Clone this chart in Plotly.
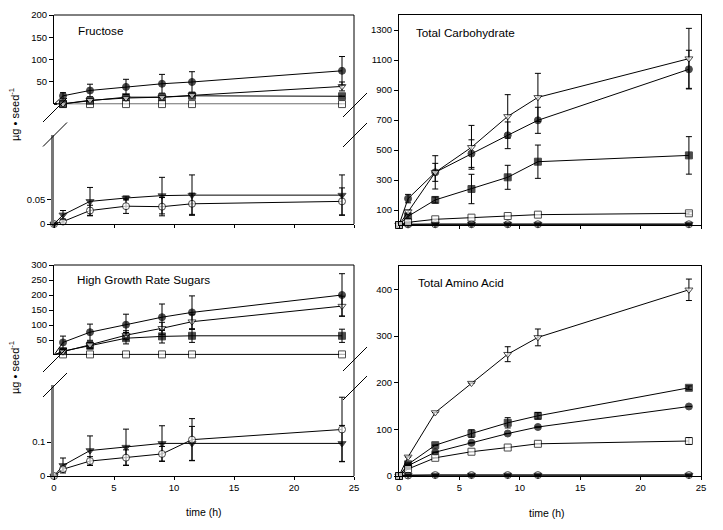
import plotly.graph_objects as go

# page body has an 8px default margin: figure is sized to fit inside the window
OFF = 8
W, H = 723 - 2 * OFF, 530 - 2 * OFF

# ---------------- data ----------------
times = [0, 0.75, 3, 6, 9, 11.5, 24]
x_ticks = [0, 5, 10, 15, 20, 25]

# Fructose
fru_fc = [0, 19, 31, 39, 46, 50, 75]
fru_fc_err = [0, 7, 14, 17, 21, 23, 32]
fru_ot = [0, 1, 9, 14, 16, 20, 40]
fru_ot_err = [0, 0, 0, 0, 0, 0, 10]
fru_fs = [0, 1, 8, 16, 16, 19, 18]
fru_fs_err = [0, 0, 0, 0, 0, 0, 0]
fru_os = [0, 0.5, 0.5, 0.5, 0.5, 0.5, 0.5]
fru_os_err = [0, 0, 0, 0, 0, 0, 0]
fru_ft = [0, 0.019, 0.047, 0.054, 0.059, 0.060, 0.060]
fru_ft_err = [0, 0.009, 0.029, 0.004, 0.038, 0.042, 0.042]
fru_oc = [0, 0.005, 0.028, 0.037, 0.036, 0.042, 0.047]
fru_oc_err = [0, 0.003, 0.011, 0.015, 0.019, 0.022, 0.028]

# High growth rate sugars
hgr_fc = [0, 42, 76, 101, 126, 142, 200]
hgr_fc_err = [0, 21, 27, 35, 44, 55, 71]
hgr_ot = [0, 11, 34, 66, 89, 111, 163]
hgr_ot_err = [0, 0, 10, 15, 20, 25, 33]
hgr_fs = [0, 13, 31, 56, 62, 64, 64]
hgr_fs_err = [0, 5, 10, 19, 22, 22, 22]
hgr_os = [0, 2, 2, 2, 2, 2, 2]
hgr_os_err = [0, 0, 0, 0, 0, 0, 0]
hgr_ft = [0, 0.031, 0.075, 0.085, 0.096, 0.096, 0.096]
hgr_ft_err = [0, 0.022, 0.043, 0.053, 0.052, 0.050, 0.053]
hgr_oc = [0, 0.020, 0.044, 0.054, 0.065, 0.107, 0.137]
hgr_oc_err = [0, 0.006, 0.013, 0.023, 0.022, 0.062, 0.095]

# Total carbohydrate
tc_fc = [0, 176, 351, 476, 598, 698, 1038]
tc_fc_err = [0, 28, 60, 92, 89, 87, 127]
tc_ot = [0, 89, 351, 518, 724, 851, 1109]
tc_ot_err = [0, 10, 111, 146, 145, 160, 202]
tc_fs = [0, 58, 167, 240, 318, 422, 464]
tc_fs_err = [0, 15, 20, 98, 80, 111, 125]
tc_os = [0, 18, 38, 49, 60, 69, 78]
tc_os_err = [0, 0, 0, 0, 0, 0, 10]
tc_ft = [0, 5, 6, 6, 6, 6, 6]
tc_ft_err = [0, 0, 0, 0, 0, 0, 0]
tc_oc = [0, 4, 5, 5, 5, 5, 5]
tc_oc_err = [0, 0, 0, 0, 0, 0, 0]

# Total amino acid
aa_fc = [0, 22, 51, 71, 91, 105, 149]
aa_fc_err = [0, 0, 0, 0, 0, 0, 0]
aa_ot = [0, 41, 136, 199, 261, 297, 399]
aa_ot_err = [0, 0, 0, 0, 16, 18, 23]
aa_fs = [0, 25, 66, 91, 114, 129, 189]
aa_fs_err = [0, 0, 0, 8, 11, 7, 4]
aa_os = [0, 15, 39, 52, 61, 69, 75]
aa_os_err = [0, 0, 0, 0, 0, 0, 7]
aa_ft = [0, 2, 2, 2, 2, 2, 2]
aa_ft_err = [0, 0, 0, 0, 0, 0, 0]
aa_oc = [0, 1, 2, 2, 2, 2, 2]
aa_oc_err = [0, 0, 0, 0, 0, 0, 0]

# ---------------- styles ----------------
STY = {
    "fc": dict(symbol="circle", color="black"),
    "ot": dict(symbol="triangle-down", color="white"),
    "fs": dict(symbol="square", color="black"),
    "os": dict(symbol="square", color="white"),
    "ft": dict(symbol="triangle-down", color="black"),
    "oc": dict(symbol="circle", color="white"),
}

fig = go.Figure()


def add(key, y, err, xa, ya, hide_first=False):
    st = STY[key]
    sizes = [7] * len(times)
    if hide_first:
        sizes[0] = 0
    fig.add_trace(go.Scatter(
        x=times, y=y, xaxis=xa, yaxis=ya, mode="lines+markers",
        line=dict(color="black", width=1),
        marker=dict(symbol=st["symbol"], color=st["color"], size=sizes,
                    line=dict(color="black", width=1)),
        error_y=dict(type="data", array=err, color="black", thickness=1, width=3),
        cliponaxis=False, showlegend=False, hoverinfo="x+y"))


# top-left upper (x, y) / lower (x2, y2)
add("os", fru_os, fru_os_err, "x", "y", True)
add("fs", fru_fs, fru_fs_err, "x", "y", True)
add("ot", fru_ot, fru_ot_err, "x", "y", True)
add("fc", fru_fc, fru_fc_err, "x", "y", True)
add("oc", fru_oc, fru_oc_err, "x2", "y2")
add("ft", fru_ft, fru_ft_err, "x2", "y2")

# top-right (x3, y3)
for k, y, e in [("oc", tc_oc, tc_oc_err), ("ft", tc_ft, tc_ft_err),
                ("fs", tc_fs, tc_fs_err), ("fc", tc_fc, tc_fc_err),
                ("ot", tc_ot, tc_ot_err), ("os", tc_os, tc_os_err)]:
    add(k, y, e, "x3", "y3")

# bottom-left upper (x4, y4) / lower (x5, y5)
add("os", hgr_os, hgr_os_err, "x4", "y4", True)
add("fs", hgr_fs, hgr_fs_err, "x4", "y4", True)
add("ot", hgr_ot, hgr_ot_err, "x4", "y4", True)
add("fc", hgr_fc, hgr_fc_err, "x4", "y4", True)
add("ft", hgr_ft, hgr_ft_err, "x5", "y5")
add("oc", hgr_oc, hgr_oc_err, "x5", "y5")

# bottom-right (x6, y6)
for k, y, e in [("oc", aa_oc, aa_oc_err), ("ft", aa_ft, aa_ft_err),
                ("fc", aa_fc, aa_fc_err), ("fs", aa_fs, aa_fs_err),
                ("ot", aa_ot, aa_ot_err), ("os", aa_os, aa_os_err)]:
    add(k, y, e, "x6", "y6")


def px(p):
    return (p - OFF) / W


def py(p):
    return 1 - (p - OFF) / H


TF = dict(family="Arial, Liberation Sans", size=9.5, color="black")

LX = [px(54), px(354)]
RX = [px(399), px(701)]


def xax(domain, anchor, labels, visible=True):
    d = dict(domain=domain, anchor=anchor, range=[0, 25], showgrid=False,
             zeroline=False, tickfont=TF, tickcolor="black", automargin=False)
    if visible:
        d.update(showline=True, linecolor="black", linewidth=1, ticks="outside",
                 ticklen=3, showticklabels=labels, tickvals=x_ticks)
    else:
        d.update(visible=False)
    return d


def yax(domain, anchor, rng, tv, tt=None, linecolor="black", lw=1, mirror=False):
    d = dict(domain=domain, anchor=anchor, range=rng, showgrid=False,
             zeroline=False, tickvals=tv, tickfont=TF, ticks="outside",
             ticklen=4, tickcolor="black", showline=True, linecolor=linecolor,
             linewidth=lw, mirror=mirror, automargin=False)
    if tt is not None:
        d["ticktext"] = tt
    return d


layout = dict(
    width=W, height=H, margin=dict(l=0, r=0, t=0, b=0, pad=0, autoexpand=False),
    paper_bgcolor="white", plot_bgcolor="rgba(0,0,0,0)",
    font=dict(family="Arial, Liberation Sans", color="black"),
    xaxis=xax(LX, "y", False, visible=False),
    yaxis=yax([py(104.3), py(15)], "x", [0, 200], [50, 100, 150, 200]),
    xaxis2=xax(LX, "y2", False),
    yaxis2=yax([py(224), py(135)], "x2", [0, 0.185], [0, 0.05], ["0", "0.05"],
               linecolor="#777777", lw=2.5),
    xaxis3=dict(xax(RX, "y3", False), mirror=True),
    yaxis3=yax([py(225), py(15)], "x3", [0, 1400],
               [100, 300, 500, 700, 900, 1100, 1300], mirror=True),
    xaxis4=xax(LX, "y4", False, visible=False),
    yaxis4=yax([py(355), py(265)], "x4", [0, 300], [50, 100, 150, 200, 250, 300]),
    xaxis5=xax(LX, "y5", True),
    yaxis5=yax([py(476), py(385)], "x5", [0, 0.268], [0, 0.1], ["0", "0.1"],
               linecolor="#777777", lw=2.5),
    xaxis6=dict(xax(RX, "y6", True), mirror=True),
    yaxis6=yax([py(476), py(266)], "x6", [0, 450], [0, 100, 200, 300, 400], mirror=True),
)

shapes = []


def pline(x0, y0, x1, y1, w=1, color="black"):
    shapes.append(dict(type="line", xref="paper", yref="paper",
                       x0=px(x0), y0=py(y0), x1=px(x1), y1=py(y1),
                       line=dict(color=color, width=w)))


# left panels: top border and continuous right border
for top, bot in [(15, 224), (265, 476)]:
    pline(54, top, 354, top)
    pline(354, top, 354, bot)

# break slashes
for (cx, cy) in [(55, 110), (55, 134.5), (355, 105), (355, 135),
                 (55, 360), (55, 385), (355, 359), (355, 388)]:
    pline(cx - 12, cy + 12, cx + 12, cy - 12)

layout["shapes"] = shapes

ann = []


def text(x, y, s, size=11.7, xanchor="left", angle=0):
    ann.append(dict(x=px(x), y=py(y), xref="paper", yref="paper", text=s,
                    showarrow=False, xanchor=xanchor, yanchor="middle",
                    textangle=angle,
                    font=dict(family="Arial, Liberation Sans", size=size, color="black")))


text(76, 31, "Fructose")
text(414, 32, "Total Carbohydrate")
text(75, 279, "High Growth Rate Sugars")
text(416, 282, "Total Amino Acid")
text(204, 512, "time (h)", size=10.5, xanchor="center")
text(547, 513, "time (h)", size=10.5, xanchor="center")
text(14, 115, "µg • seed<sup>-1</sup>", size=11, xanchor="center", angle=-90)
text(14, 368, "µg • seed<sup>-1</sup>", size=11, xanchor="center", angle=-90)

layout["annotations"] = ann
fig.update_layout(**layout)
fig.write_html("out.html")
